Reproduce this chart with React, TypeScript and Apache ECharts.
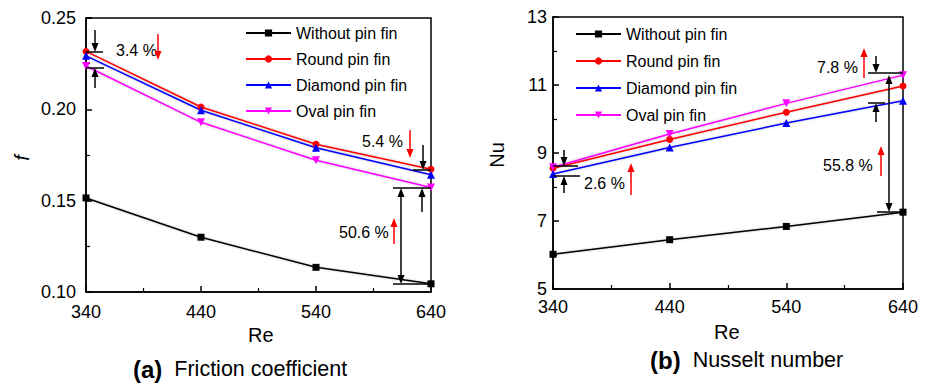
import React, { useEffect, useRef } from "react";
import * as echarts from "echarts";

const reValues = [340, 440, 540, 640];
const reTicks = [340, 440, 540, 640];
const seriesNames = ["Without pin fin", "Round pin fin", "Diamond pin fin", "Oval pin fin"];
const seriesColors = ["#000000", "#ff0000", "#0000ff", "#ff00ff"];
const seriesSymbols = ["rect", "circle", "triangle", "path://M0,0 L10,0 L5,9 Z"];

const fWithout = [0.1515, 0.13, 0.1135, 0.1045];
const fRound = [0.2317, 0.2013, 0.1809, 0.1672];
const fDiamond = [0.2293, 0.1995, 0.179, 0.1642];
const fOval = [0.2237, 0.1929, 0.1721, 0.1572];

const nuWithout = [6.02, 6.45, 6.84, 7.26];
const nuRound = [8.55, 9.4, 10.2, 10.97];
const nuDiamond = [8.38, 9.16, 9.88, 10.54];
const nuOval = [8.58, 9.56, 10.46, 11.29];

const fTicks = [0.1, 0.15, 0.2, 0.25];
const nuTicks = [5, 7, 9, 11, 13];

const RE0 = reTicks[0];
const NU0 = nuTicks[0];
const FONT = "'Liberation Sans', Arial, Helvetica, sans-serif";

function App() {
  const ref = useRef<HTMLDivElement>(null);
  useEffect(() => {
    if (!ref.current) return;
    const chart = echarts.init(ref.current, null, { renderer: "svg" });

    const fSets = [fWithout, fRound, fDiamond, fOval];
    const nuSets = [nuWithout, nuRound, nuDiamond, nuOval];

    const mkSeries = (sets: number[][], idx: number, yOff: number) =>
      sets.map((vals, i) => ({
        name: seriesNames[i],
        type: "line",
        xAxisIndex: idx,
        yAxisIndex: idx,
        data: vals.map((v, k) => [reValues[k] - RE0, v - yOff]),
        symbol: seriesSymbols[i],
        symbolSize: i === 0 ? 7 : i === 1 ? 7 : 8,
        itemStyle: { color: seriesColors[i] },
        lineStyle: { color: seriesColors[i], width: 1.5, shadowColor: "rgba(0,0,0,0.25)", shadowBlur: 2 },
        z: 3,
      }));

    const G: any[] = [];
    const hl = (x1: number, x2: number, y: number) =>
      G.push({ type: "line", shape: { x1, y1: y, x2, y2: y }, style: { stroke: "#000", lineWidth: 1.5 }, z: 10 });
    const head = (x: number, tip: number, dir: number, color: string) =>
      G.push({
        type: "polygon",
        shape: { points: [[x - 3.5, tip - dir * 9], [x + 3.5, tip - dir * 9], [x, tip]] },
        style: { fill: color },
        z: 10,
      });
    const arrow = (x: number, y1: number, y2: number, color = "#000") => {
      const dir = y2 > y1 ? 1 : -1;
      G.push({ type: "line", shape: { x1: x, y1, x2: x, y2: y2 - dir * 6 }, style: { stroke: color, lineWidth: 1.5 }, z: 10 });
      head(x, y2, dir, color);
    };
    const darrow = (x: number, y1: number, y2: number) => {
      G.push({ type: "line", shape: { x1: x, y1: y1 + 6, x2: x, y2: y2 - 6 }, style: { stroke: "#000", lineWidth: 1.5 }, z: 10 });
      head(x, y1, -1, "#000");
      head(x, y2, 1, "#000");
    };
    const txt = (text: string, x: number, y: number, size = 16, extra: any = {}) =>
      G.push({
        type: "text",
        x,
        y,
        z: 10,
        ...extra,
        style: {
          text,
          fontSize: size,
          fontFamily: FONT,
          fill: "#000",
          textAlign: "left",
          textVerticalAlign: "middle",
          align: "left",
          verticalAlign: "middle",
          ...(extra.style || {}),
        },
      });

    // left annotations
    hl(86, 103, 52);
    arrow(95, 30, 52);
    hl(86, 104, 68);
    arrow(95, 88, 68);
    txt("3.4 %", 116, 50);
    arrow(158, 34, 60, "#ff0000");
    txt("5.4 %", 362, 141);
    arrow(410, 130, 158, "#ff0000");
    arrow(423, 145, 170);
    hl(413, 431, 170);
    hl(393, 431, 188);
    arrow(422, 212, 188);
    darrow(401, 188, 284);
    hl(393, 431, 284);
    txt("50.6 %", 339, 232);
    arrow(394, 244, 218, "#ff0000");

    // right annotations
    hl(553, 578, 166);
    arrow(564, 150, 166);
    hl(553, 580, 176);
    arrow(564, 193, 176);
    txt("2.6 %", 584, 183);
    arrow(631, 195, 163, "#ff0000");
    txt("7.8 %", 817, 67);
    arrow(864, 78, 48, "#ff0000");
    arrow(876, 56, 73);
    hl(868, 903, 73);
    darrow(889, 75, 212);
    hl(877, 903, 212);
    hl(868, 885, 103);
    arrow(876, 122, 103);
    txt("55.8 %", 823, 165);
    arrow(881, 176, 146, "#ff0000");

    // axis names and captions
    txt("Re", 248, 335, 20);
    txt("Re", 714, 332, 20);
    txt("f", 22, 158, 20, { rotation: Math.PI / 2, style: { fontStyle: "italic", align: "center", textAlign: "center" } });
    txt("Nu", 497, 155, 20, { rotation: Math.PI / 2, style: { align: "center", textAlign: "center" } });
    const rich = { b: { fontWeight: "bold", fontSize: 24, fontFamily: FONT }, n: { fontSize: 21.5, fontFamily: FONT, padding: [0, 0, 0, 12] } };
    txt("{b|(a)}{n|Friction coefficient}", 133, 369, 21.5, { style: { rich } });
    txt("{b|(b)}{n|Nusselt number}", 650, 360, 21.5, { style: { rich } });

    const axisCommon = {
      axisLine: { show: true, lineStyle: { color: "#000", width: 1.5 } },
      axisTick: { show: true, inside: true, length: 6, lineStyle: { color: "#000", width: 1.5 } },
      minorTick: { show: true, splitNumber: 2, length: 4, lineStyle: { color: "#000", width: 1.2 } },
      splitLine: { show: false },
    };

    const xAxis = [0, 1].map((i) => ({
      type: "value",
      gridIndex: i,
      min: 0,
      max: reTicks[reTicks.length - 1] - RE0,
      interval: reTicks[1] - reTicks[0],
      ...axisCommon,
      axisLabel: { color: "#000", fontSize: 18, fontFamily: FONT, margin: i === 0 ? 11 : 9, formatter: (v: number) => String(v + RE0) },
    }));

    const yAxis = [
      {
        type: "value",
        gridIndex: 0,
        min: fTicks[0],
        max: fTicks[fTicks.length - 1],
        interval: fTicks[1] - fTicks[0],
        ...axisCommon,
        axisLabel: { color: "#000", fontSize: 18, fontFamily: FONT, margin: 10, formatter: (v: number) => v.toFixed(2) },
      },
      {
        type: "value",
        gridIndex: 1,
        min: 0,
        max: nuTicks[nuTicks.length - 1] - NU0,
        interval: nuTicks[1] - nuTicks[0],
        ...axisCommon,
        axisLabel: { color: "#000", fontSize: 18, fontFamily: FONT, margin: 6, formatter: (v: number) => String(Math.round(v + NU0)) },
      },
    ];

    const legendCommon = {
      orient: "vertical",
      itemWidth: 45,
      itemHeight: 9,
      itemGap: 10,
      data: seriesNames,
      selectedMode: false,
    };

    chart.setOption({
      animation: false,
      backgroundColor: "#fff",
      grid: [
        { left: 86, top: 18, width: 345, height: 274, show: true, borderColor: "#000", borderWidth: 1.5, backgroundColor: "transparent" },
        { left: 553, top: 17, width: 350, height: 272, show: true, borderColor: "#000", borderWidth: 1.5, backgroundColor: "transparent" },
      ],
      legend: [
        {
          ...legendCommon,
          left: 240,
          top: 20,
          textStyle: { color: "#000", fontSize: 16, fontFamily: FONT, lineHeight: 16 },
        },
        {
          ...legendCommon,
          left: 570,
          top: 21,
          itemGap: 11,
          textStyle: { color: "#000", fontSize: 16, fontFamily: FONT, lineHeight: 16 },
        },
      ],
      xAxis,
      yAxis,
      series: [...mkSeries(fSets, 0, 0), ...mkSeries(nuSets, 1, NU0)],
      graphic: G,
    });

    return () => chart.dispose();
  }, []);

  return <div ref={ref} style={{ position: "fixed", left: 0, top: 0, width: 926, height: 385, background: "#fff" }} />;
}

export default App;
